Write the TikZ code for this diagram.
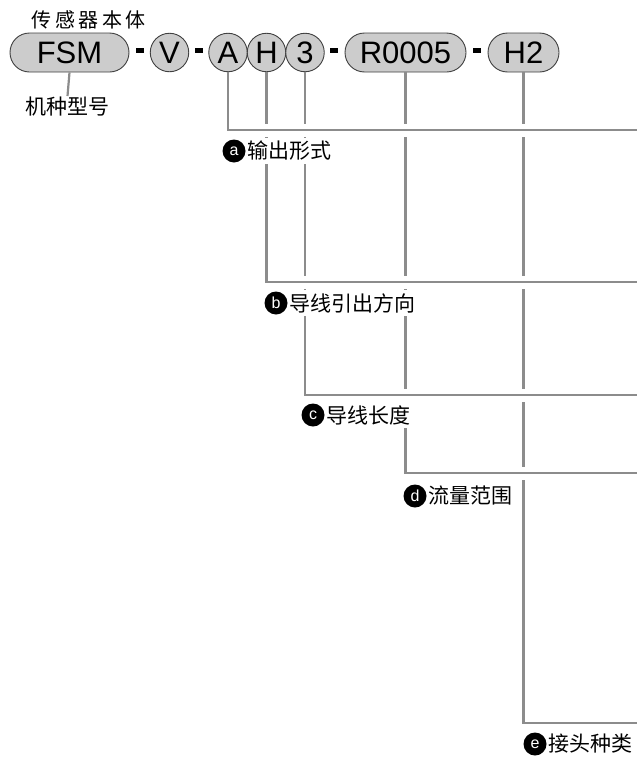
\documentclass[tikz,border=0pt]{standalone}
\usepackage{fontspec}
\setmainfont{Liberation Sans}
\newfontfamily\cjk{Noto Sans CJK SC}
\definecolor{linegray}{HTML}{8C8C8C}
\definecolor{pillgray}{HTML}{CCCCCC}
\begin{document}
\begin{tikzpicture}[x=1pt,y=-1pt,
  conn/.style={draw=linegray, line width=2.2pt},
  halo/.style={draw=white, line width=13pt},
  pill/.style={draw=black!75, line width=0.9pt, fill=pillgray, rounded corners=19.5pt,
    minimum height=39pt, inner sep=0pt, font=\fontsize{31}{31}\selectfont},
  ring/.style={draw=black!75, line width=0.9pt, fill=pillgray, circle,
    minimum size=38.5pt, inner sep=0pt, font=\fontsize{31}{31}\selectfont},
  dashbox/.style={fill=black, minimum width=8pt, minimum height=5.5pt, inner sep=0pt},
  badge/.style={circle, fill=black, text=white, minimum size=23pt, inner sep=0pt,
    font=\fontsize{16}{16}\selectfont},
  cjklabel/.style={fill=white, inner xsep=1.5pt, inner ysep=3pt,
    font=\cjk\fontsize{21}{21}\selectfont, anchor=west},
  toplabel/.style={inner sep=1pt, font=\cjk\fontsize{21}{21}\selectfont},
]
\useasboundingbox (0,0) rectangle (637,758);

% top row
\node[pill, minimum width=119pt] (FSM) at (69.5,52.5) {FSM};
\node[dashbox] (d1) at (140,50.5) {};
\node[ring] (V) at (169.5,52.5) {V};
\node[dashbox] (d2) at (198.5,50.5) {};
\node[ring] (A) at (228,52.5) {A};
\node[ring] (H) at (266.5,52.5) {H};
\node[ring] (T) at (305,52.5) {3};
\node[dashbox] (d3) at (334,50.5) {};
\node[pill, minimum width=121pt] (R) at (405.5,52.5) {R0005};
\node[dashbox] (d4) at (477,50.5) {};
\node[pill, minimum width=71pt] (H2) at (523.5,52.5) {H2};

% top labels
\node[inner sep=0pt, font=\cjk\fontsize{20}{20}\selectfont] (body) at (88.5,20)
  {传\hspace{3.5pt}感\hspace{3.5pt}器\hspace{3.5pt}本\hspace{3.5pt}体};
\node[toplabel, anchor=north] (model) at (67.5,96) {机种型号};
\draw[conn] (FSM.south) -- (model.north);

% coordinates at the right edge
\coordinate (ra) at (637,130);
\coordinate (rb) at (637,282);
\coordinate (rc) at (637,395);
\coordinate (rd) at (637,473);
\coordinate (re) at (637,723);

% e group
\draw[conn] (H2.south) |- (re);
\node[badge] (be) at (535,744) {e};
\node[cjklabel] (le) at (be.east) {接头种类};

% d group
\draw[halo] ([xshift=6pt]R.south |- rd) -- (rd);
\draw[conn] (R.south) |- (rd);
\node[badge] (bd) at (415,496) {d};
\node[cjklabel] (ld) at (bd.east) {流量范围};

% c group
\draw[halo] ([xshift=6pt]T.south |- rc) -- (rc);
\draw[conn] (T.south) |- (rc);
\node[badge] (bc) at (313,415) {c};
\node[cjklabel] (lc) at (bc.east) {导线长度};

% b group
\draw[halo] ([xshift=6pt]H.south |- rb) -- (rb);
\draw[conn] (H.south) |- (rb);
\node[badge] (bb) at (276,303) {b};
\node[cjklabel] (lb) at (bb.east) {导线引出方向};

% a group
\draw[halo] ([xshift=6pt]A.south |- ra) -- (ra);
\draw[conn] (A.south) |- (ra);
\node[badge] (ba) at (234,151) {a};
\node[cjklabel] (la) at (ba.east) {输出形式};
\end{tikzpicture}
\end{document}
